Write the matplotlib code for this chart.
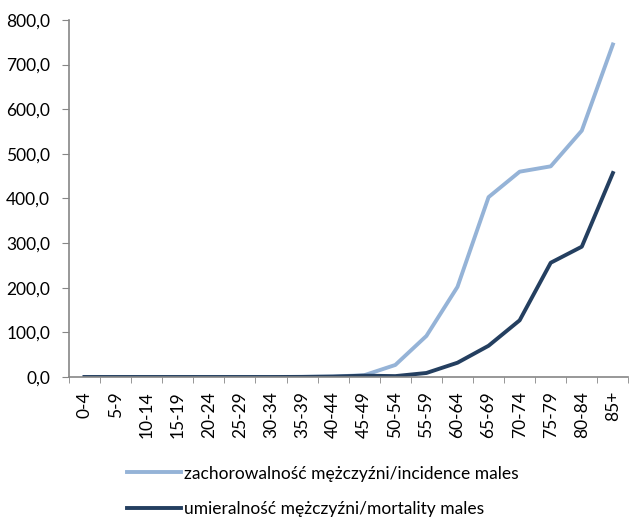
import matplotlib
matplotlib.use('Agg')
import matplotlib.pyplot as plt
from matplotlib.ticker import FuncFormatter

age_groups = ['0-4', '5-9', '10-14', '15-19', '20-24', '25-29', '30-34', '35-39',
              '40-44', '45-49', '50-54', '55-59', '60-64', '65-69', '70-74',
              '75-79', '80-84', '85+']
incidence = [0.0, 0.0, 0.0, 0.0, 0.0, 0.0, 0.0, 0.3, 1.0, 4.0, 27.0, 92.0,
             202.0, 403.0, 460.0, 472.0, 552.0, 745.0]
mortality = [0.0, 0.0, 0.0, 0.0, 0.0, 0.0, 0.0, 0.2, 1.0, 3.0, 2.0, 9.0,
             32.0, 70.0, 127.0, 256.0, 292.0, 457.0]

plt.rcParams['font.family'] = ['Lato', 'DejaVu Sans']
plt.rcParams['font.size'] = 12.5

fig = plt.figure(figsize=(6.3, 5.19), dpi=100)
ax = fig.add_axes([0.1095, 0.2736, 0.888, 0.688])

x = list(range(len(age_groups)))
ax.plot(x, incidence, color='#95B3D7', linewidth=2.8,
        label='zachorowalność mężczyźni/incidence males')
ax.plot(x, mortality, color='#243F60', linewidth=2.8,
        label='umieralność mężczyźni/mortality males')

ax.set_xlim(-0.5, len(age_groups) - 0.5)
ax.set_ylim(0, 800)
ax.set_yticks(range(0, 801, 100))
ax.yaxis.set_major_formatter(FuncFormatter(lambda v, p: f'{v:.1f}'.replace('.', ',')))

ax.set_xticks(x)
ax.set_xticklabels(age_groups, rotation=90)
ax.set_xticks([i - 0.5 for i in range(len(age_groups) + 1)], minor=True)
ax.tick_params(axis='x', which='major', length=0, pad=10)
ax.tick_params(axis='x', which='minor', length=4, color='#868686')
ax.tick_params(axis='y', length=5, color='#868686', pad=8.5)

for s in ['top', 'right']:
    ax.spines[s].set_visible(False)
for s in ['left', 'bottom']:
    ax.spines[s].set_color('#868686')
    ax.spines[s].set_linewidth(1.2)

fig.legend(loc='upper left', bbox_to_anchor=(0.2016, 0.103), frameon=False,
           borderpad=0, borderaxespad=0, handlelength=3.1, handletextpad=0.2,
           labelspacing=1.12)

fig.savefig('out.png', dpi=100)
